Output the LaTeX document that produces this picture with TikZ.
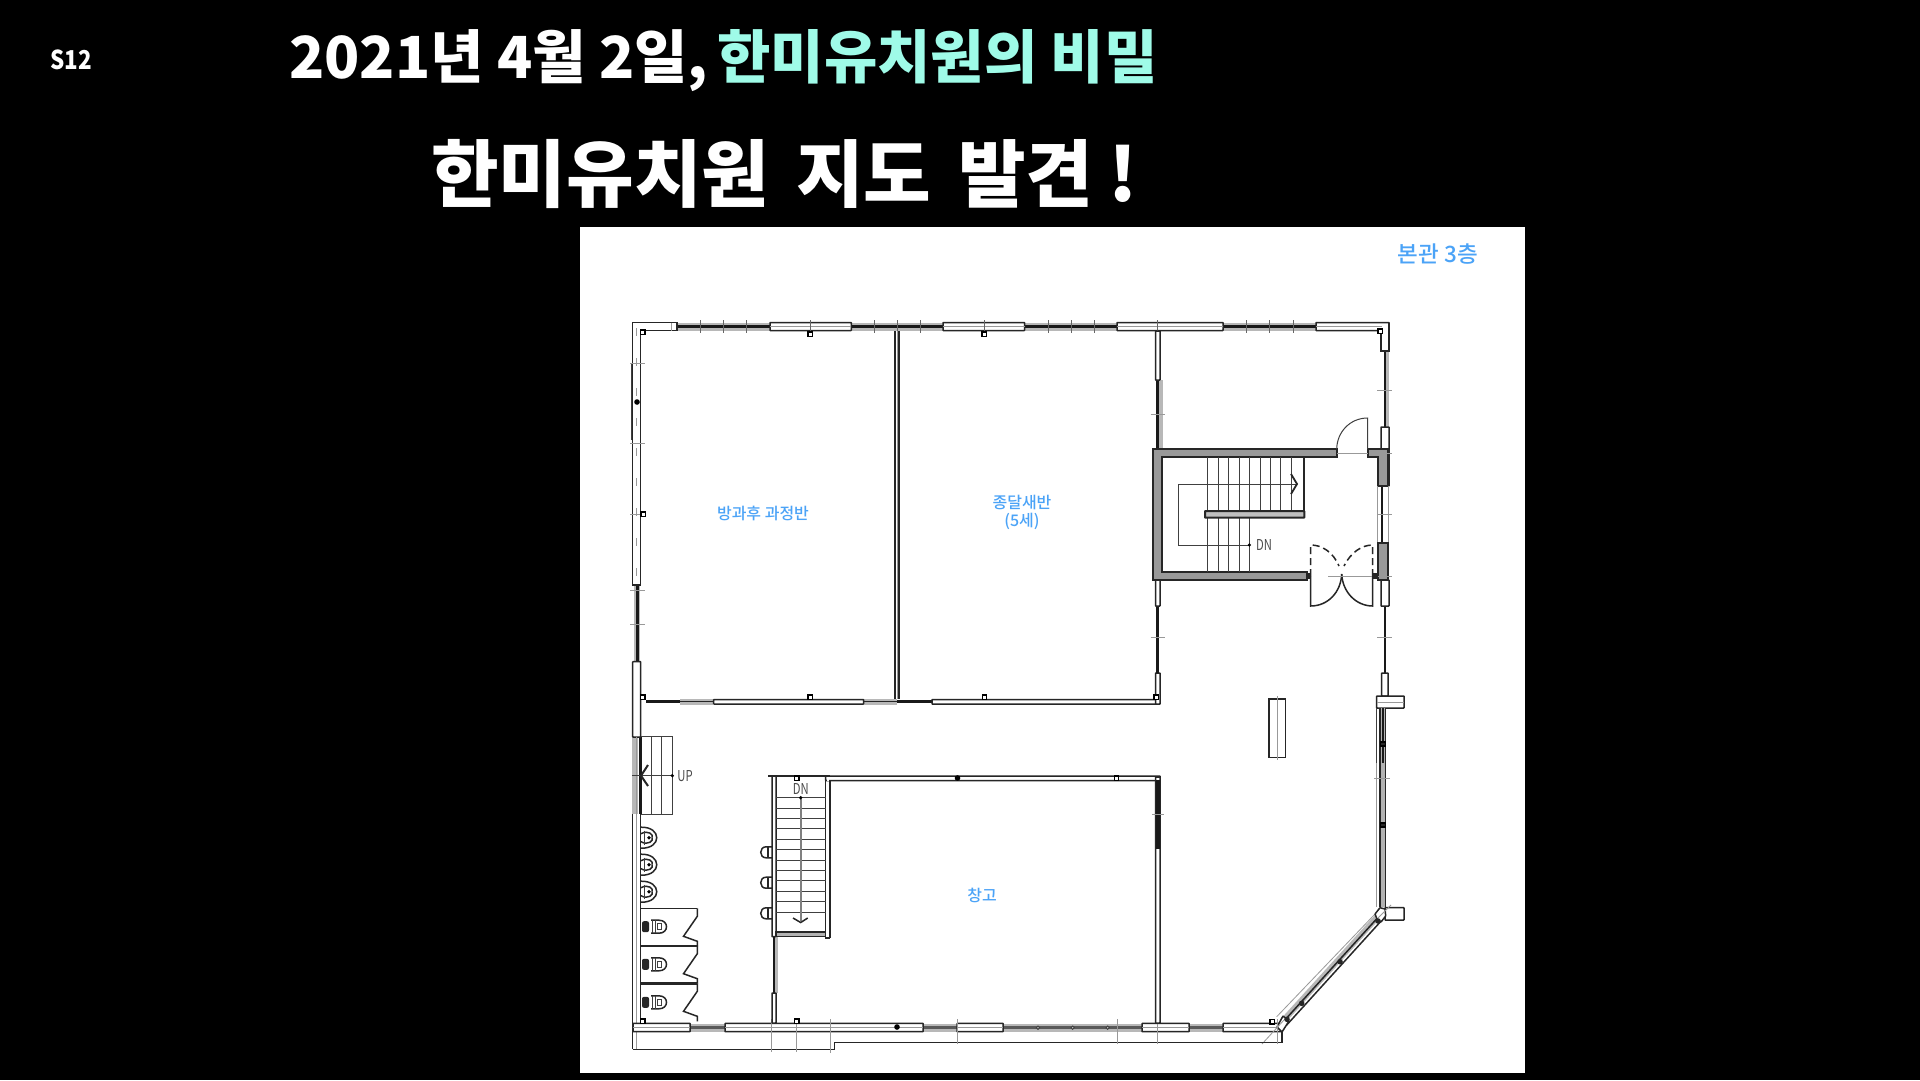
\documentclass[tikz,border=0pt]{standalone}
\usepackage{fontspec}
\setmainfont{Noto Sans CJK KR}
\newfontfamily\krmedium{Noto Sans CJK KR Medium}
\definecolor{mintcol}{HTML}{9FFBE8}
\definecolor{labelblue}{HTML}{4BA3F7}
\tikzset{
  winbox/.style={draw=black!85, line width=1.5pt, fill=white, rounded corners=0.5pt},
  hatchwall/.style={draw=black!85, line width=1.4pt, fill=black!40},
  wallline/.style={draw=black!85, line width=1.5pt},
  blackline/.style={draw=black!90, line width=2.6pt},
  grayband/.style={draw=black!28, line width=8pt},
  tickline/.style={draw=black!40, line width=0.8pt},
  thinline/.style={draw=black!75, line width=1pt},
  postbox/.style={draw=black, line width=1.4pt, fill=white},
  roomlabel/.style={text=labelblue, inner sep=0pt, align=center, font=\krmedium\fontsize{16}{18}\selectfont},
  cadlabel/.style={text=black!70, inner sep=0pt, font=\fontsize{15}{15}\selectfont}
}
\begin{document}
\begin{tikzpicture}[x=1pt, y=-1pt, >=stealth]
    % Slide background and white sheet
    \fill[black] (0,0) rectangle (1920,1080);
    \useasboundingbox (0,0) rectangle (1920,1080);
    \fill[white] (580,227) rectangle (1524.5,1073);

    % Titles
    \node[anchor=west, text=white, inner sep=0pt, font=\fontsize{26}{26}\selectfont\bfseries] (slidetag) at (50,60) {\scalebox{.86}[1]{S12}};
    \node[anchor=west, text=white, inner sep=0pt, font=\fontsize{58}{58}\selectfont\bfseries] (title) at (289,61) {2021년 4월 2일,\hspace{-4pt} \textcolor{mintcol}{한미유치원의 비밀}};
    \node[anchor=west, text=white, inner sep=0pt, font=\fontsize{73.5}{73.5}\selectfont\bfseries] (subtitle) at (431,174) {한미유치원\hspace{10pt} 지도\hspace{10pt} 발견\hspace{-2pt} !};

    % Gray bands under the plain wall parts
    \foreach \a/\b in {677/770, 851/943, 1025/1117, 1223/1316} \draw[grayband] (\a,326.5) -- (\b,326.5);
    \foreach \a/\b in {690/725, 923/957, 1003/1142, 1189/1223} \draw[grayband] (\a,1027.5) -- (\b,1027.5);
    \draw[grayband, line width=3pt] (1387,351) -- (1387,427);
    \draw[grayband, line width=4pt] (1161,380) -- (1161,449);
    \draw[grayband, line width=6pt] (637,585) -- (637,662);
    \draw[grayband, line width=6pt] (635,737) -- (635,814);
    \draw[grayband, line width=6pt] (680,701.5) -- (713,701.5);
    \draw[grayband, line width=6pt] (863,701.5) -- (897,701.5);
    \draw[grayband, line width=6pt] (1157.7,777) -- (1157.7,1023);
    \draw[grayband, line width=5pt] (775,936) -- (775,993);
    \draw[grayband, line width=6pt] (1282,1022) -- (1380,914);

    % Black lines in those bands
    \foreach \a/\b in {677/770, 851/943, 1025/1117, 1223/1316} \draw[blackline] (\a,326.5) -- (\b,326.5);
    \foreach \a/\b in {690/725, 923/957, 1003/1142, 1189/1223} \draw[blackline, draw=black!65] (\a,1027.5) -- (\b,1027.5);
    \draw[blackline] (1385,351) -- (1385,427);
    \draw[blackline] (1157.7,380) -- (1157.7,449);
    \draw[blackline, line width=3pt] (637,585) -- (637,662);
    \draw[blackline, line width=3pt] (640,737) -- (640,814);
    \draw[blackline] (646,701.5) -- (680,701.5);
    \draw[wallline] (680,701.5) -- (713,701.5);
    \draw[wallline] (863,701.5) -- (897,701.5);
    \draw[blackline] (897,701.5) -- (932,701.5);
    \draw[blackline] (1382,486) -- (1382,543);
    \draw[blackline] (1385,606) -- (1385,673);
    \draw[blackline] (1382,708) -- (1382,763);

    % Outer wall, top and left
    \draw[wallline] (677,322.5) -- (632.7,322.5) -- (632.7,585) -- (640.7,585) -- (640.7,330.5) -- (677,330.5) -- cycle;
    \draw[tickline] (671,322.5) -- (671,331);
    \draw[tickline, dash pattern=on 8pt off 22pt] (636.7,328) -- (636.7,585);
    \draw[thinline] (631,363) -- (631,440);
    \foreach \y in {363,443,514,590,624} \draw[tickline] (630,\y) -- (645,\y);
    \draw[winbox] (632.7,661.7) rectangle (640.7,737);
    \draw[wallline] (632.7,814) -- (632.7,1049.3);
    \draw[wallline] (640.7,814) -- (640.7,1023);
    \draw[tickline] (636.7,814) -- (636.7,1049);
    \draw[tickline] (636.7,737) -- (636.7,814);

    % Windows along the top and bottom
    \foreach \a/\b in {770/851.4, 943/1024.6, 1117/1223, 1316/1389} {
      \draw[winbox] (\a,322.5) rectangle (\b,330.5);
      \draw[tickline] (\a,326.5) -- (\b,326.5);
    }
    \foreach \a/\b in {633/690, 725/923, 957/1003, 1142/1189, 1223/1282} {
      \draw[winbox] (\a,1023.3) rectangle (\b,1031.7);
      \draw[tickline] (\a,1027.5) -- (\b,1027.5);
    }
    \foreach \x in {700,723.6,746.8,810,874,897,920,984,1048.6,1071,1094,1157.7,1246,1269,1293} \draw[tickline, draw=black!60] (\x,320) -- (\x,333);

    % Upper room walls
    \draw[wallline, line width=1.6pt] (894.8,331) -- (894.8,699);
    \draw[wallline, line width=1.6pt] (899,331) -- (899,699);
    \draw[tickline] (896.9,331) -- (896.9,699);
    \draw[winbox] (1155.5,331) rectangle (1160,380);
    \draw[winbox] (713.6,699.5) rectangle (863.6,704);
    \draw[winbox] (932,699.5) rectangle (1160,704);
    \draw[winbox] (1155.5,673) rectangle (1160,704);
    \draw[blackline] (1157.7,606) -- (1157.7,673);
    \draw[winbox] (1155.5,580) rectangle (1160,606);
    \foreach \x/\y in {1157.7/414, 1157.7/637} \draw[tickline] (\x-7,\y) -- (\x+7,\y);

    % Stair hall
    \fill[black!40, draw=black!85, line width=1.4pt] (1153,449) -- (1337,449) -- (1337,457) -- (1162,457) -- (1162,572) -- (1307,572) -- (1307,580) -- (1153,580) -- cycle;
    \foreach \x in {1207.3,1218,1228.7,1239,1249.3} \draw[thinline] (\x,457) -- (\x,572);
    \foreach \x in {1260,1270.3,1280.7,1291} \draw[thinline] (\x,457) -- (\x,511);
    \draw[wallline, line width=2pt] (1304.3,457) -- (1304.3,517.7);
    \draw[winbox, line width=2pt, fill=black!25] (1205,511) rectangle (1304.3,517.7);
    \draw[thinline] (1297,484) -- (1178,484) -- (1178,545) -- (1249.3,545);
    \fill[black] (1249.3,545) circle (1.8pt);
    \draw[wallline, line width=1.8pt] (1291,474) -- (1297,484) -- (1291,494);
    \node[cadlabel] (dnhall) at (1264,545) {\scalebox{.75}[1]{DN}};

    % Right wall
    \draw[wallline] (1389,322.5) -- (1389,351) -- (1381,351) -- (1381,330.5);
    \fill[white] (1382,323.5) rectangle (1388,350);
    \draw[winbox] (1381,427) rectangle (1389,486);
    \draw[hatchwall] (1368,449) -- (1388,449) -- (1388,486) -- (1378,486) -- (1378,457) -- (1368,457) -- cycle;
    \draw[tickline] (1377,486) -- (1377,543);
    \draw[tickline] (1388.5,486) -- (1388.5,543);
    \draw[winbox] (1381,580) rectangle (1389,606);
    \draw[hatchwall] (1378,543) rectangle (1388,580);
    \draw[tickline] (1374,453) -- (1392,453);
    \draw[tickline] (1374,576) -- (1392,576);
    \foreach \y in {390,514,637} \draw[tickline] (1377,\y) -- (1392,\y);

    % Door swings
    \draw[thinline] (1367.7,449) -- (1367.7,418) .. controls (1350,418) and (1337,432) .. (1336.7,449);
    \draw[tickline] (1337,453) -- (1368,453);
    \draw[wallline] (1310.7,576) -- (1310.7,606) .. controls (1328,606) and (1341,592) .. (1341.7,574);
    \draw[wallline] (1372.7,576) -- (1372.7,606) .. controls (1356,606) and (1342.5,592) .. (1341.7,574);
    \draw[wallline, dash pattern=on 7pt off 4pt] (1310.7,576) -- (1310.7,545) .. controls (1322,545) and (1333,552) .. (1339,566);
    \draw[wallline, dash pattern=on 7pt off 4pt] (1372.7,576) -- (1372.7,545) .. controls (1362,545) and (1351,552) .. (1344,566);
    \draw[tickline] (1328,576) -- (1372,576);
    \fill[black!85] (1307,573) rectangle (1311,579);
    \fill[black!85] (1372,573) rectangle (1378,579);

    % Lower right wall and piers
    \draw[winbox] (1381.7,673) rectangle (1388,696);
    \draw[winbox] (1376.7,696) rectangle (1404,708);
    \draw[tickline] (1376.7,702.5) -- (1404,702.5);
    \draw[thinline] (1376.7,708) -- (1376.7,763);
    \draw[tickline] (1376.7,763) -- (1376.7,907);
    \fill[black!30] (1380,708) rectangle (1385.7,907);
    \draw[wallline] (1380,708) -- (1380,907);
    \draw[wallline] (1385.7,708) -- (1385.7,907);
    \draw[blackline] (1382.8,708) -- (1382.8,763);
    \draw[tickline] (1374,778) -- (1390,778);
    \draw[winbox] (1385,907.7) rectangle (1404,920);
    \draw[postbox, fill=black!85] (1380.5,742) rectangle (1385.5,746);
    \draw[postbox, fill=black!85] (1380.5,823) rectangle (1385.5,827);
    \draw[wallline] (1283.3,1021.7) -- (1378.3,917);
    \draw[wallline] (1286.7,1025) -- (1382,920);
    \draw[tickline] (1276.7,1016.7) -- (1375,914);
    \draw[winbox] (1377,919) -- (1375,914) -- (1380,907.7) -- (1385,909) -- (1385.7,916) -- (1381,922) -- cycle;
    \draw[winbox] (1282,1032) -- (1277,1027) -- (1283,1016) -- (1289,1021) -- cycle;
    \foreach \x/\y in {1340/961.7, 1301.7/1003.3, 1378/921, 1287/1019.3} \fill[black!85] (\x,\y) circle (2.8pt);
    \draw[tickline] (1262,1044) -- (1284,1020);
    \draw[tickline] (1378,918) -- (1391,905);

    % Base line under the building
    \draw[wallline] (632.7,1049.3) -- (834.3,1049.3) -- (834.3,1042.3) -- (1282,1042.3) -- (1282,1031.7);
    \foreach \x/\b in {771.7/1052, 796.7/1052, 830/1053, 957/1044, 1117/1044, 1157.7/1044, 1277/1044} \draw[tickline] (\x,1019) -- (\x,\b);

    % Lower room
    \draw[wallline] (768,776) -- (830,776);
    \draw[winbox, line width=1.5pt] (825.7,776) rectangle (1160,780.5);
    \fill[white] (826.8,777) rectangle (829,781);
    \draw[wallline] (830,780.5) -- (830,938);
    \draw[wallline] (825.7,776) -- (825.7,938) -- (830,938);
    \draw[winbox] (1155.5,777) rectangle (1160,1023);
    \draw[blackline, line width=4pt] (1157.7,780) -- (1157.7,849);
    \draw[tickline] (1152,814) -- (1164,814);

    % Main stairs
    \draw[winbox] (772,776) rectangle (776,936.7);
    \draw[wallline, fill=black!30] (776,932) rectangle (825.7,936.7);
    \foreach \i in {0,...,11} \draw[thinline] (776,797.7+\i*10.4) -- (825.7,797.7+\i*10.4);
    \draw[thinline, line width=2pt, draw=black!50] (800.7,797.7) -- (800.7,921);
    \fill[black] (800.7,797.7) circle (1.8pt);
    \draw[wallline] (793,918) -- (800.7,922.5) -- (807.7,918);
    \node[cadlabel] (dnmain) at (800.7,789) {\scalebox{.75}[1]{DN}};
    \draw[blackline] (774,936.7) -- (774,993);
    \draw[winbox] (772,993) rectangle (776,1023);

    % Basins on the stair wall
    \foreach \y in {852.3,882.7,913.3} {
      \draw[wallline] (772,\y-5.5) -- (766,\y-5.5) .. controls (759,\y-5.5) and (759,\y+5.5) .. (766,\y+5.5) -- (772,\y+5.5);
      \draw[wallline] (768,\y-5) -- (768,\y+5);
    }

    % Small stairs
    \draw[thinline] (640.7,736.7) -- (672.3,736.7) -- (672.3,814.3) -- (640.7,814.3);
    \foreach \x in {651,661.7} \draw[thinline] (\x,736.7) -- (\x,814.3);
    \draw[thinline] (632,775.7) -- (672.3,775.7);
    \fill[black] (672.3,775.7) circle (1.8pt);
    \draw[wallline, line width=2pt] (648,765) -- (641,775.7) -- (648,786);
    \node[cadlabel] (upstair) at (685,776) {\scalebox{.75}[1]{UP}};

    % Urinals
    \foreach \y in {837.7,864.7,891.7} {
      \draw[wallline] (641,\y-10.5) .. controls (662,\y-11) and (662,\y+11) .. (641,\y+10.5);
      \draw[wallline] (641,\y-4) .. controls (648,\y-8) and (654,\y-3) .. (652,\y);
      \draw[wallline] (641,\y+4) .. controls (648,\y+8) and (654,\y+3) .. (652,\y);
      \fill[black] (649,\y) circle (1.8pt);
      \draw[thinline] (644,\y-7) -- (644,\y+7);
    }

    % Toilet stalls
    \foreach \y/\w in {908.3/1.5, 945.7/2.4, 983.3/2.4} {
      \draw[wallline, line width=\w pt] (640.7,\y) -- (697.3,\y);
      \draw[wallline] (697.3,\y) -- (697.3,\y+8) -- (683.5,\y+28) -- (697.3,\y+33) -- (697.3,\y+38);
    }
    \foreach \y in {926.7,964.3,1002.3} {
      \draw[wallline] (651,\y-6.5) -- (659,\y-6.5) .. controls (669,\y-6.5) and (669,\y+6.5) .. (659,\y+6.5) -- (651,\y+6.5);
      \draw[thinline] (657,\y-3) -- (661,\y-3) -- (661,\y+3) -- (657,\y+3) -- cycle;
      \fill[black!85, rounded corners=2pt] (642,\y-5.5) rectangle (649,\y+5.5);
      \draw[thinline] (652,\y-6.5) -- (652,\y+6.5);
      \draw[thinline] (655,\y-6.5) -- (655,\y+6.5);
    }

    % Posts
    \foreach \x/\y in {642.7/332, 810/334, 984/334, 643/514, 642.7/697, 810/697, 984.5/697, 1156/697, 796.7/778, 1116.4/778, 642.7/1021, 796.7/1021.3, 1380/331, 1272.3/1021.7} \draw[postbox] (\x-2.2,\y-2.2) rectangle (\x+2.2,\y+2.2);
    \foreach \x/\y in {637/402, 957.5/778, 897/1027} \fill[black] (\x,\y) circle (2.8pt);
    \foreach \x in {1038,1072.7,1107.7} \draw[thinline, fill=white] (\x,1027.7) circle (1.6pt);

    % Column box in the hall
    \draw[wallline] (1269,699) rectangle (1285.3,757.3);
    \draw[tickline] (1277,696) -- (1277,760);

    % Room labels
    \node[roomlabel, font=\krmedium\fontsize{22.5}{23}\selectfont] (floorname) at (1437.7,254) {본관 3층};
    \node[roomlabel] (roomafter) at (763,513) {방과후 과정반};
    \node[roomlabel] (roombird) at (1022,512) {종달새반\\(5세)};
    \node[roomlabel] (roomstore) at (982,895) {창고};
\end{tikzpicture}
\end{document}
